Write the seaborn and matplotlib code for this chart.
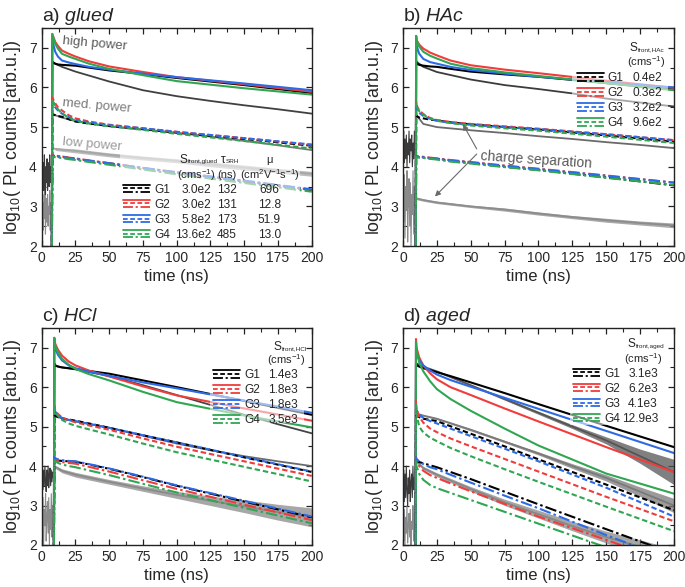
import numpy as np
import pandas as pd
import seaborn as sns
import matplotlib
matplotlib.use("Agg")
import matplotlib.pyplot as plt
from matplotlib.lines import Line2D
from matplotlib.legend_handler import HandlerBase
from matplotlib.patches import Rectangle

# ---------------- data ----------------
GROUPS = ["G1", "G2", "G3", "G4"]
COLORS = ["#000000", "#f03c3c", "#2d6be6", "#30a652"]

# panel a) glued
A_T_SIM = [7.5, 7.8, 10, 12, 15, 20, 25, 35, 50, 75, 100, 150, 200]
A_HIGH = [[1.5, 6.65, 6.60, 6.58, 6.57, 6.56, 6.55, 6.50, 6.43, 6.34, 6.24, 6.06, 5.86],
          [1.5, 7.35, 7.15, 7.05, 6.93, 6.85, 6.78, 6.66, 6.53, 6.39, 6.26, 6.08, 5.89],
          [1.5, 7.20, 6.90, 6.78, 6.68, 6.63, 6.59, 6.52, 6.45, 6.35, 6.26, 6.10, 5.93],
          [1.5, 7.35, 7.10, 6.98, 6.85, 6.78, 6.72, 6.60, 6.47, 6.31, 6.16, 5.98, 5.82]]
A_MED = [[1.5, 5.33, 5.30, 5.28, 5.26, 5.20, 5.14, 5.09, 5.03, 4.95, 4.86, 4.70, 4.53],
         [1.5, 5.75, 5.60, 5.50, 5.42, 5.30, 5.22, 5.14, 5.06, 4.97, 4.88, 4.72, 4.55],
         [1.5, 5.60, 5.50, 5.42, 5.34, 5.25, 5.18, 5.12, 5.05, 4.97, 4.88, 4.72, 4.56],
         [1.5, 5.68, 5.55, 5.45, 5.34, 5.24, 5.16, 5.09, 5.02, 4.93, 4.83, 4.65, 4.46]]
A_LOW = [[1.5, 4.28, 4.27, 4.26, 4.25, 4.22, 4.20, 4.15, 4.08, 3.96, 3.85, 3.63, 3.41],
         [1.5, 4.30, 4.29, 4.27, 4.26, 4.23, 4.21, 4.16, 4.09, 3.97, 3.86, 3.64, 3.42],
         [1.5, 4.28, 4.27, 4.26, 4.25, 4.22, 4.20, 4.15, 4.09, 3.97, 3.86, 3.65, 3.43],
         [1.5, 4.25, 4.24, 4.23, 4.22, 4.19, 4.17, 4.12, 4.05, 3.93, 3.81, 3.59, 3.37]]
A_T_EXP = [7.5, 7.8, 10, 15, 25, 50, 75, 100, 125, 150, 175, 200]
A_EXP_HIGH = [3.9, 6.62, 6.60, 6.52, 6.40, 6.15, 5.93, 5.78, 5.66, 5.55, 5.45, 5.34]
A_EXP_MED = [3.5, 5.32, 5.30, 5.24, 5.15, 5.02, 4.94, 4.86, 4.76, 4.65, 4.54, 4.42]
A_EXP_LOW = [3.2, 4.47, 4.45, 4.43, 4.40, 4.30, 4.22, 4.15, 4.06, 3.98, 3.90, 3.82]
A_EXP_LOW_AMP = [0.04, 0.04, 0.04, 0.04, 0.05, 0.05, 0.05, 0.05, 0.06, 0.06, 0.06, 0.06]
A_NOISE_DARK = [3.9, 4.2, 3.5, 4.1, 3.4, 4.3, 3.7, 3.3, 4.0, 3.6, 4.2, 3.4, 3.9, 4.1, 3.5, 4.3, 3.6, 4.0, 3.8, 3.9]
A_NOISE_LIGHT = [3.0, 2.5, 3.3, 2.4, 3.1, 2.7, 3.4, 2.3, 2.9, 3.2, 2.6, 3.3, 2.5, 3.0, 2.8, 3.4, 2.4, 3.1, 2.9, 3.2]
A_S = ["3.0e2", "3.0e2", "5.8e2", "13.6e2"]
A_TAU = ["132", "131", "173", "485"]
A_MU = ["696", "12.8", "51.9", "13.0"]

# panel b) HAc
B_T_SIM = [9.4, 9.7, 10, 12, 15, 20, 25, 35, 50, 75, 100, 150, 200]
B_HIGH = [[1.5, 6.65, 6.60, 6.57, 6.55, 6.53, 6.52, 6.47, 6.40, 6.33, 6.27, 6.11, 5.95],
          [1.5, 7.30, 7.20, 7.08, 6.98, 6.88, 6.81, 6.68, 6.56, 6.45, 6.36, 6.17, 5.99],
          [1.5, 7.15, 7.05, 6.85, 6.72, 6.64, 6.60, 6.52, 6.44, 6.35, 6.27, 6.13, 6.00],
          [1.5, 7.30, 7.18, 7.03, 6.90, 6.80, 6.73, 6.60, 6.49, 6.38, 6.29, 6.11, 5.93]]
B_MED = [[1.5, 5.30, 5.28, 5.24, 5.22, 5.19, 5.17, 5.12, 5.07, 5.00, 4.94, 4.79, 4.63],
         [1.5, 5.63, 5.55, 5.42, 5.33, 5.23, 5.18, 5.13, 5.08, 5.02, 4.96, 4.82, 4.67],
         [1.5, 5.52, 5.45, 5.36, 5.28, 5.21, 5.16, 5.11, 5.06, 5.00, 4.95, 4.82, 4.67],
         [1.5, 5.60, 5.52, 5.40, 5.31, 5.22, 5.16, 5.10, 5.04, 4.97, 4.91, 4.76, 4.60]]
B_LOW = [[1.5, 4.25, 4.25, 4.24, 4.23, 4.21, 4.20, 4.15, 4.10, 4.00, 3.92, 3.73, 3.53],
         [1.5, 4.27, 4.27, 4.26, 4.25, 4.23, 4.21, 4.17, 4.12, 4.03, 3.95, 3.78, 3.60],
         [1.5, 4.27, 4.26, 4.25, 4.24, 4.22, 4.20, 4.16, 4.11, 4.02, 3.94, 3.77, 3.60],
         [1.5, 4.24, 4.24, 4.23, 4.22, 4.20, 4.18, 4.13, 4.08, 3.99, 3.91, 3.72, 3.54]]
B_T_EXP = [9.4, 9.7, 10, 15, 25, 50, 75, 100, 125, 150, 175, 200]
B_EXP_HIGH = [4.2, 6.70, 6.65, 6.52, 6.39, 6.20, 6.06, 5.96, 5.85, 5.72, 5.62, 5.52]
B_EXP_MED = [4.0, 5.35, 5.30, 5.08, 5.00, 4.92, 4.85, 4.77, 4.70, 4.62, 4.55, 4.47]
B_EXP_LOW = [3.0, 3.22, 3.20, 3.16, 3.10, 3.00, 2.92, 2.82, 2.73, 2.65, 2.58, 2.52]
B_EXP_LOW_AMP = [0.03, 0.03, 0.03, 0.03, 0.03, 0.03, 0.04, 0.04, 0.04, 0.05, 0.05, 0.06]
B_NOISE_DARK = [4.5, 4.9, 4.1, 4.7, 4.2, 4.8, 4.0, 4.6, 4.3, 4.9, 4.1, 4.7, 4.4, 4.8, 4.0, 4.6, 4.2, 4.9, 4.3, 4.5]
B_NOISE_LIGHT = [3.4, 2.6, 3.8, 2.2, 3.5, 2.9, 3.9, 2.1, 3.2, 3.7, 2.5, 3.6, 2.0, 3.3, 2.8, 3.9, 2.3, 3.5, 3.0, 3.4]
B_S = ["0.4e2", "0.3e2", "3.2e2", "9.6e2"]

# panel c) HCl
C_T_SIM = [9.0, 9.3, 10, 12, 15, 20, 25, 35, 50, 75, 100, 150, 200]
C_HIGH = [[1.5, 6.60, 6.55, 6.52, 6.50, 6.48, 6.46, 6.41, 6.34, 6.17, 6.00, 5.65, 5.30],
          [1.5, 7.25, 7.10, 6.95, 6.80, 6.65, 6.55, 6.42, 6.27, 6.02, 5.79, 5.46, 5.15],
          [1.5, 7.10, 6.98, 6.82, 6.68, 6.55, 6.48, 6.39, 6.29, 6.12, 5.97, 5.66, 5.35],
          [1.5, 7.25, 7.05, 6.88, 6.72, 6.57, 6.46, 6.33, 6.17, 5.88, 5.62, 5.28, 4.98]]
C_MED = [[1.5, 5.30, 5.27, 5.24, 5.21, 5.18, 5.15, 5.08, 4.97, 4.78, 4.60, 4.22, 3.85],
         [1.5, 5.53, 5.42, 5.32, 5.23, 5.16, 5.11, 5.03, 4.92, 4.70, 4.49, 4.12, 3.75],
         [1.5, 5.48, 5.38, 5.30, 5.22, 5.17, 5.14, 5.07, 4.97, 4.78, 4.60, 4.23, 3.86],
         [1.5, 5.53, 5.38, 5.27, 5.17, 5.08, 5.02, 4.93, 4.80, 4.57, 4.35, 3.98, 3.61]]
C_LOW = [[1.5, 4.15, 4.15, 4.14, 4.13, 4.12, 4.11, 4.04, 3.93, 3.72, 3.50, 3.10, 2.70],
         [1.5, 4.20, 4.17, 4.13, 4.10, 4.08, 4.06, 3.98, 3.86, 3.64, 3.42, 3.02, 2.63],
         [1.5, 4.22, 4.20, 4.17, 4.15, 4.13, 4.12, 4.05, 3.94, 3.73, 3.51, 3.12, 2.72],
         [1.5, 4.15, 4.12, 4.08, 4.04, 4.00, 3.97, 3.89, 3.77, 3.55, 3.33, 2.94, 2.55]]
C_T_EXP = [9.0, 9.3, 10, 15, 25, 50, 75, 100, 125, 150, 175, 200]
C_EXP_HIGH = [4.0, 6.60, 6.55, 6.50, 6.45, 6.28, 6.05, 5.80, 5.55, 5.30, 5.06, 4.83]
C_EXP_MED = [3.8, 5.32, 5.28, 5.20, 5.13, 4.97, 4.77, 4.57, 4.40, 4.25, 4.12, 4.00]
C_EXP_LOW = [3.5, 4.02, 3.98, 3.88, 3.78, 3.60, 3.43, 3.27, 3.12, 2.98, 2.83, 2.70]
C_EXP_LOW_AMP = [0.04, 0.04, 0.04, 0.05, 0.06, 0.06, 0.07, 0.09, 0.12, 0.16, 0.2, 0.24]
C_NOISE_DARK = [3.7, 4.0, 3.4, 3.9, 3.5, 4.0, 3.6, 3.35, 3.9, 3.5, 4.0, 3.45, 3.8, 3.95, 3.5, 3.9, 3.6, 3.85, 3.7, 3.8]
C_NOISE_LIGHT = [2.8, 2.2, 3.2, 2.0, 2.9, 2.5, 3.3, 2.1, 2.7, 3.1, 2.3, 3.2, 2.0, 2.9, 2.4, 3.3, 2.2, 3.0, 2.6, 2.9]
C_S = ["1.4e3", "1.8e3", "1.8e3", "3.5e3"]

# panel d) aged
D_T_SIM = [9.3, 9.6, 10, 12, 15, 20, 25, 35, 50, 75, 100, 150, 200]
D_HIGH = [[1.5, 6.60, 6.56, 6.52, 6.48, 6.43, 6.38, 6.28, 6.12, 5.85, 5.57, 5.02, 4.48],
          [1.5, 7.22, 7.00, 6.75, 6.55, 6.35, 6.20, 6.00, 5.80, 5.46, 5.13, 4.48, 3.85],
          [1.5, 7.00, 6.85, 6.68, 6.55, 6.42, 6.32, 6.18, 6.01, 5.73, 5.45, 4.89, 4.33],
          [1.5, 7.15, 6.95, 6.62, 6.40, 6.15, 5.95, 5.70, 5.40, 4.95, 4.52, 3.81, 3.30]]
D_MED = [[1.5, 5.30, 5.27, 5.24, 5.20, 5.17, 5.14, 5.01, 4.82, 4.50, 4.17, 3.53, 2.88],
         [1.5, 5.65, 5.45, 5.25, 5.10, 4.95, 4.86, 4.70, 4.50, 4.18, 3.86, 3.22, 2.60],
         [1.5, 5.50, 5.42, 5.30, 5.22, 5.14, 5.08, 4.95, 4.76, 4.44, 4.12, 3.45, 2.72],
         [1.5, 5.55, 5.30, 5.00, 4.85, 4.72, 4.63, 4.46, 4.25, 3.92, 3.60, 2.97, 2.35]]
D_LOW = [[1.5, 4.15, 4.13, 4.10, 4.07, 4.02, 3.97, 3.85, 3.67, 3.35, 3.03, 2.40, 1.78],
         [1.5, 4.22, 4.12, 4.00, 3.88, 3.77, 3.70, 3.56, 3.36, 3.04, 2.72, 2.13, 1.52],
         [1.5, 4.22, 4.18, 4.12, 4.05, 3.97, 3.92, 3.78, 3.58, 3.25, 2.93, 2.25, 1.60],
         [1.5, 4.12, 4.00, 3.80, 3.65, 3.52, 3.44, 3.32, 3.14, 2.84, 2.54, 1.94, 1.34]]
D_T_EXP = [9.3, 9.6, 10, 15, 25, 50, 75, 100, 125, 150, 175, 200]
D_EXP_HIGH = [3.8, 6.62, 6.60, 6.52, 6.40, 6.05, 5.70, 5.35, 5.00, 4.65, 4.25, 3.85]
D_EXP_HIGH_AMP = [0.02, 0.02, 0.02, 0.02, 0.02, 0.02, 0.03, 0.04, 0.05, 0.09, 0.18, 0.32]
D_EXP_MED = [3.6, 5.35, 5.33, 5.28, 5.20, 4.92, 4.62, 4.32, 4.00, 3.70, 3.35, 3.00]
D_EXP_MED_AMP = [0.02, 0.02, 0.02, 0.02, 0.02, 0.03, 0.03, 0.04, 0.06, 0.08, 0.12, 0.18]
D_EXP_LOW = [3.3, 4.14, 4.12, 3.95, 3.78, 3.42, 3.08, 2.78, 2.48, 2.20, 1.95, 1.70]
D_EXP_LOW_AMP = [0.03, 0.03, 0.03, 0.04, 0.05, 0.06, 0.08, 0.10, 0.12, 0.15, 0.18, 0.2]
D_NOISE_DARK = [3.5, 3.9, 3.1, 3.8, 3.2, 4.0, 3.4, 3.0, 3.7, 3.3, 3.9, 3.1, 3.6, 3.8, 3.2, 4.0, 3.4, 3.7, 3.5, 3.6]
D_NOISE_LIGHT = [2.6, 2.1, 2.9, 2.0, 2.7, 2.3, 3.0, 2.05, 2.5, 2.8, 2.2, 2.9, 2.0, 2.6, 2.4, 3.0, 2.1, 2.8, 2.5, 2.7]
D_S = ["3.1e3", "6.2e3", "4.1e3", "12.9e3"]

X_TICKS = [0, 25, 50, 75, 100, 125, 150, 175, 200]
Y_TICKS = [2, 3, 4, 5, 6, 7]

# ---------------- style ----------------
sns.set_style("ticks")
plt.rcParams.update({
    "font.family": ["Liberation Sans", "DejaVu Sans"],
    "mathtext.fontset": "custom",
    "mathtext.rm": "Liberation Sans",
    "mathtext.it": "Liberation Sans:italic",
    "mathtext.bf": "Liberation Sans:bold",
    "axes.edgecolor": "#222222", "axes.linewidth": 1.0,
    "xtick.labelsize": 10, "ytick.labelsize": 10,
})

LS_HIGH = "-"
LS_MED = (0, (2.6, 1.4))
LS_LOW = (0, (5.5, 1.5, 1.2, 1.5))
FS_TAB = 8.6


class TripleHandler(HandlerBase):
    def create_artists(self, legend, orig_handle, xdescent, ydescent, width, height, fontsize, trans):
        arts = []
        for frac, ls in zip((0.95, 0.5, 0.05), (LS_HIGH, LS_MED, LS_LOW)):
            y = -ydescent + height * frac
            ln = Line2D([-xdescent, -xdescent + width], [y, y], color=orig_handle.get_color(),
                        linestyle=ls, lw=1.3)
            ln.set_transform(trans)
            arts.append(ln)
        return arts


fig = plt.figure(figsize=(6.85, 5.87), dpi=100)
RECTS = {"a": [0.0609, 0.5809, 0.3942, 0.3714], "b": [0.5883, 0.5809, 0.3956, 0.3714],
         "c": [0.0609, 0.0716, 0.3942, 0.3697], "d": [0.5883, 0.0716, 0.3956, 0.3697]}

PANELS = [
    dict(key="a", title="glued", tsim=A_T_SIM, sims=(A_HIGH, A_MED, A_LOW), texp=A_T_EXP,
         exps=(A_EXP_HIGH, A_EXP_MED, A_EXP_LOW), amps=(None, None, A_EXP_LOW_AMP),
         ecol=("#404040", "#767676", "#a6a6a6"), ndark=A_NOISE_DARK, nlight=A_NOISE_LIGHT),
    dict(key="b", title="HAc", tsim=B_T_SIM, sims=(B_HIGH, B_MED, B_LOW), texp=B_T_EXP,
         exps=(B_EXP_HIGH, B_EXP_MED, B_EXP_LOW), amps=(None, None, B_EXP_LOW_AMP),
         ecol=("#3c3c3c", "#6a6a6a", "#8c8c8c"), ndark=B_NOISE_DARK, nlight=B_NOISE_LIGHT),
    dict(key="c", title="HCl", tsim=C_T_SIM, sims=(C_HIGH, C_MED, C_LOW), texp=C_T_EXP,
         exps=(C_EXP_HIGH, C_EXP_MED, C_EXP_LOW), amps=(None, None, C_EXP_LOW_AMP),
         ecol=("#444444", "#6a6a6a", "#8a8a8a"), ndark=C_NOISE_DARK, nlight=C_NOISE_LIGHT),
    dict(key="d", title="aged", tsim=D_T_SIM, sims=(D_HIGH, D_MED, D_LOW), texp=D_T_EXP,
         exps=(D_EXP_HIGH, D_EXP_MED, D_EXP_LOW), amps=(D_EXP_HIGH_AMP, D_EXP_MED_AMP, D_EXP_LOW_AMP),
         ecol=("#555555", "#7a7a7a", "#888888"), ndark=D_NOISE_DARK, nlight=D_NOISE_LIGHT),
]

axes = {}
for p in PANELS:
    ax = fig.add_axes(RECTS[p["key"]])
    axes[p["key"]] = ax
    t0 = p["tsim"][0]
    # pre-pulse noise
    tn = np.linspace(0, t0, len(p["ndark"]))
    sns.lineplot(x=tn, y=p["nlight"], ax=ax, color="#8a8a8a", lw=0.8, estimator=None,
                 sort=False, legend=False, zorder=1.2)
    sns.lineplot(x=tn, y=p["ndark"], ax=ax, color="#3a3a3a", lw=0.8, estimator=None,
                 sort=False, legend=False, zorder=1.3)
    # experimental
    for vals, amp, col in zip(p["exps"], p["amps"], p["ecol"]):
        if amp is not None:
            v = np.asarray(vals)
            a = np.asarray(amp)
            ax.fill_between(p["texp"][2:], (v - a)[2:], (v + a)[2:], color=col, lw=0,
                            alpha=0.75, zorder=1.4)
        sns.lineplot(x=p["texp"], y=vals, ax=ax, color=col, lw=1.3, estimator=None,
                     sort=False, legend=False, zorder=1.5)
    # simulations
    for series, ls in zip(p["sims"], (LS_HIGH, LS_MED, LS_LOW)):
        for vals, col in zip(series, COLORS):
            sns.lineplot(x=p["tsim"], y=vals, ax=ax, color=col, linestyle=ls, lw=1.5,
                         estimator=None, sort=False, legend=False, zorder=2)
    ax.set_xlim(0, 200)
    ax.set_ylim(2, 7.5)
    ax.set_xticks(X_TICKS)
    ax.set_yticks(Y_TICKS)
    ax.set_xticks([12.5 + 25 * i for i in range(8)], minor=True)
    ax.set_yticks([2.5, 3.5, 4.5, 5.5, 6.5, 7.5], minor=True)
    ax.tick_params(which="both", direction="in", top=True, right=True, color="#222222")
    ax.tick_params(which="major", length=4.5, width=0.9)
    ax.tick_params(which="minor", length=3.0, width=0.8)
    ax.set_xlabel("time (ns)", fontsize=12, labelpad=3)
    ax.set_ylabel(r"log$_{10}$( PL counts [arb.u.])", fontsize=12.8, labelpad=4)
    ax.set_title(p["key"] + r") $\mathit{" + p["title"] + "}$", loc="left", fontsize=14, pad=5)

# ---------------- annotations ----------------
ax = axes["a"]
ax.text(15, 7.1, "high power", color="#5a5a5a", fontsize=9.5, rotation=-5, va="center")
ax.text(15, 5.52, "med. power", color="#7a7a7a", fontsize=9.5, rotation=-5, va="center")
ax.text(15, 4.57, "low power", color="#9a9a9a", fontsize=9.5, rotation=-5, va="center")

ax = axes["b"]
ax.text(56.5, 4.17, "charge separation", color="#5a5a5a", fontsize=10, rotation=-4, va="center")
arr = dict(arrowstyle="-|>", color="#6a6a6a", lw=0.8, mutation_scale=8, shrinkA=0, shrinkB=0)
ax.annotate("", xy=(44.3, 5.07), xytext=(54.4, 4.45), arrowprops=arr)
ax.annotate("", xy=(23.6, 3.25), xytext=(54.4, 4.32), arrowprops=arr)

# ---------------- legends / tables ----------------
BOXES = {"a": (0.29, 0.028, 0.667, 0.412), "b": (0.624, 0.537, 0.354, 0.408),
         "c": (0.624, 0.562, 0.348, 0.397), "d": (0.616, 0.553, 0.351, 0.41)}
for k, bx in BOXES.items():
    axes[k].add_patch(Rectangle(bx[:2], bx[2], bx[3], transform=axes[k].transAxes,
                                facecolor="white", alpha=0.55, edgecolor="none", zorder=3))

TABLES = {
    "a": dict(hx=0.301, ry=0.259, cols=[(0.628, "right", A_S), (0.685, "center", A_TAU), (0.843, "center", A_MU)],
              subs=[(0.509, 0.396, "S", "front,glued"), (0.662, 0.396, "τ", "SRH")],
              heads=[(0.573, 0.326, r"(cms$^{-1}$)"), (0.687, 0.326, "(ns)"),
                     (0.843, 0.396, "μ"), (0.846, 0.326, r"(cm$^{2}$V$^{-1}$s$^{-1}$)")]),
    "b": dict(hx=0.641, ry=0.771, cols=[(0.958, "right", B_S)],
              subs=[(0.835, 0.908, "S", "front,HAc")],
              heads=[(0.897, 0.842, r"(cms$^{-1}$)")]),
    "c": dict(hx=0.634, ry=0.783, cols=[(0.95, "right", C_S)],
              subs=[(0.858, 0.914, "S", "front,HCl")],
              heads=[(0.905, 0.851, r"(cms$^{-1}$)")]),
    "d": dict(hx=0.627, ry=0.790, cols=[(0.941, "right", D_S)],
              subs=[(0.828, 0.924, "S", "front,aged")],
              heads=[(0.886, 0.855, r"(cms$^{-1}$)")]),
}

fig.canvas.draw()
renderer = fig.canvas.get_renderer()
legs = {}
for k, spec in TABLES.items():
    ax = axes[k]
    handles = [Line2D([], [], color=c) for c in COLORS]
    leg = ax.legend(handles, GROUPS, handler_map={Line2D: TripleHandler()}, loc="upper left",
                    bbox_to_anchor=(spec["hx"], spec["ry"]), bbox_transform=ax.transAxes,
                    borderpad=0, borderaxespad=0, frameon=False, handlelength=2.3,
                    handletextpad=0.3, labelspacing=0.26, fontsize=FS_TAB)
    leg.set_zorder(5)
    legs[k] = leg
fig.canvas.draw()
for k, spec in TABLES.items():
    ax = axes[k]
    leg = legs[k]
    ext = leg.get_texts()[0].get_window_extent(renderer)
    cy = ax.transAxes.inverted().transform(((ext.x0 + ext.x1) / 2, (ext.y0 + ext.y1) / 2))[1]
    leg.set_bbox_to_anchor((spec["hx"], spec["ry"] + (spec["ry"] - cy)), transform=ax.transAxes)
fig.canvas.draw()
for k, spec in TABLES.items():
    ax = axes[k]
    leg = legs[k]
    ys = []
    for t in leg.get_texts():
        e = t.get_window_extent(renderer)
        ys.append(ax.transAxes.inverted().transform(((e.x0 + e.x1) / 2, (e.y0 + e.y1) / 2))[1])
    for x, ha, vals in spec["cols"]:
        for y, v in zip(ys, vals):
            ax.text(x, y, v, transform=ax.transAxes, ha=ha, va="center", fontsize=FS_TAB, zorder=6)
    for x, y, s in spec["heads"]:
        ax.text(x, y, s, transform=ax.transAxes, ha="center", va="center", fontsize=8, zorder=6)
    for x, y, main, sub in spec["subs"]:
        tm = ax.text(x, y, main, transform=ax.transAxes, ha="left", va="center", fontsize=FS_TAB, zorder=6)
        e = tm.get_window_extent(renderer)
        xr = ax.transAxes.inverted().transform((e.x1, e.y0))[0]
        ax.text(xr + 0.002, y - 0.009, sub, transform=ax.transAxes, ha="left", va="center",
                fontsize=4.6, zorder=6)

fig.savefig("out.png", dpi=100)
